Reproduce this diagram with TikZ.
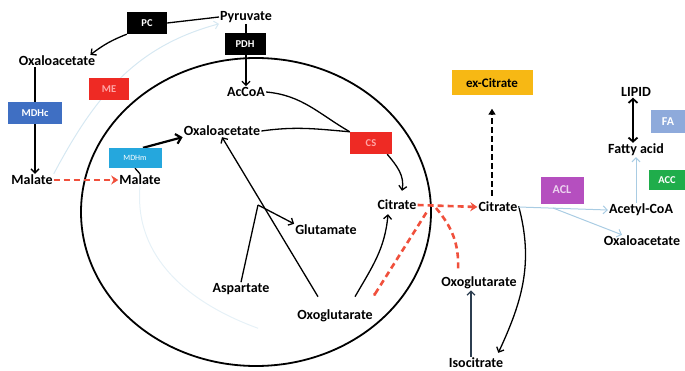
\documentclass[tikz,border=0pt]{standalone}
\usepackage{fontspec}
\setmainfont{Carlito}
\usetikzlibrary{arrows.meta}
\pgfdeclarelayer{bg}
\pgfsetlayers{bg,main}
\definecolor{enzred}{HTML}{EE2A24}
\definecolor{mdhcblue}{HTML}{3F6FC3}
\definecolor{mdhmblue}{HTML}{25A7DD}
\definecolor{exyellow}{HTML}{F7B814}
\definecolor{aclpurple}{HTML}{B54FBF}
\definecolor{accgreen}{HTML}{1FAD4B}
\definecolor{fablue}{HTML}{8EAADB}
\definecolor{paleblue}{HTML}{A9CCE3}
\definecolor{ghostblue}{HTML}{D6E8F2}
\definecolor{dashred}{HTML}{F0503C}
\definecolor{slate}{HTML}{2C3E50}
\begin{document}
\begin{tikzpicture}[x=1pt,y=1pt,>={Straight Barb[length=4pt,width=8pt]},
	met/.style={font=\bfseries\fontsize{14}{16}\selectfont,inner sep=1pt},
	enz/.style={fill=#1,text=white,font=\bfseries\fontsize{10.5}{12}\selectfont,inner sep=0pt},
	reddash/.style={draw=dashred,line width=2.6pt,dash pattern=on 6pt off 4pt},
	ghost/.style={draw=ghostblue,line width=1pt},
	pale/.style={draw=paleblue,line width=1pt}]
	\useasboundingbox (0,0) rectangle (685,370);
	% metabolites
	\node[met] (pyr) at (246,353) {Pyruvate};
	\node[met] (oaaL) at (57,309) {Oxaloacetate};
	\node[met] (malL) at (32,190) {Malate};
	\node[met] (malR) at (140,190) {Malate};
	\node[met] (acoa) at (246,278) {AcCoA};
	\node[met] (oaaI) at (222,239) {Oxaloacetate};
	\node[met] (citI) at (397,165) {Citrate};
	\node[met] (glu) at (326,140) {Glutamate};
	\node[met] (asp) at (241,81) {Aspartate};
	\node[met] (oxoI) at (335,54) {Oxoglutarate};
	\node[met] (citO) at (498,163) {Citrate};
	\node[met] (oxoO) at (479,87) {Oxoglutarate};
	\node[met] (iso) at (476,7) {Isocitrate};
	\node[met] (acyl) at (641,160) {Acetyl-CoA};
	\node[met] (oaaR) at (642,129) {Oxaloacetate};
	\node[met] (fac) at (636,220) {Fatty acid};
	\node[met] (lip) at (636,278) {LIPID};
	% enzymes
	\node[enz=black,minimum width=40,minimum height=22] (pc) at (147,347) {PC};
	\node[enz=black,minimum width=41,minimum height=22] (pdh) at (245,326) {PDH};
	\node[enz=enzred,text=red!35,minimum width=40,minimum height=22] (me) at (109,281) {ME};
	\node[enz=mdhcblue,minimum width=54,minimum height=22] (mdhc) at (35,257) {MDHc};
	\node[enz=mdhmblue,minimum width=53,minimum height=20,font=\fontsize{8}{10}\selectfont] (mdhm) at (135,212) {MDHm};
	\node[enz=enzred,text=red!35,minimum width=42,minimum height=22] (cs) at (371,227) {CS};
	\node[enz=exyellow,text=black,minimum width=81,minimum height=25,font=\bfseries\fontsize{13}{15}\selectfont] (exc) at (492,287) {ex-Citrate};
	\node[enz=aclpurple,text=aclpurple!25,minimum width=43,minimum height=27,font=\bfseries\fontsize{12}{14}\selectfont] (acl) at (562,180) {ACL};
	\node[enz=accgreen,minimum width=37,minimum height=20] (acc) at (667,190) {ACC};
	\node[enz=fablue,minimum width=35,minimum height=23,font=\bfseries\fontsize{12}{14}\selectfont] (fa) at (668,248) {FA};
	\coordinate (jn) at (258,165);
	\coordinate (xp) at (428,160);
	\coordinate (br) at (553,162);
	\begin{pgfonlayer}{bg}
	\begin{scope}[line width=1.3pt]
		\draw[line width=1.8pt] (256,158) ellipse [x radius=175,y radius=154];
		% cytosol
		\draw (pyr.west) -- (pc.east);
		\draw[->] (pc.south west) to[bend right=8] ([xshift=-6]oaaL.north east);
		\draw[->] (pyr.south) -- (acoa.north);
		\draw[->] (mdhc |- oaaL.south) -- (mdhc |- malL.north);
		\draw[reddash,-{Stealth[length=7pt,width=9pt]}] (malL.east) -- (malR.west);
		\draw[ghost,->] (malL.north east) to[out=62,in=195] (pyr.south west);
		\draw[ghost,draw=ghostblue!60] (malR.south) to[out=-95,in=160] ([xshift=-38,yshift=-5]oxoI.south west);
		% mitochondrion
		\draw (malR.north) -- (mdhm.south);
		\draw[line width=2.2pt,-{Straight Barb[length=5pt,width=10pt]}] ([xshift=8]mdhm.north) -- (oaaI.south west);
		\draw (acoa.east) to[out=-5,in=150] (cs.north west);
		\draw (oaaI.east) to[out=8,in=175] (cs.north west);
		\draw[->] ([xshift=-5]cs.south east) to[out=-50,in=80] ([xshift=5,yshift=8]citI.north);
		\draw[->] ([shift={(-17,12)}]oxoI.north) -- (oaaI.south);
		\draw (asp.north) -- (jn);
		\draw[->] (jn) -- (glu.north west);
		\draw[->] ([shift={(20,12)}]oxoI.north) to[out=60,in=-95] ([shift={(-9,-3)}]citI.south);
		\draw[reddash,-{Stealth[length=7pt,width=9pt]}] (citI.east) -- (citO.west);
		\draw[reddash,{Circle[length=3pt]}-] ([yshift=13]oxoI.north east) -- (xp);
		\draw[reddash] ([xshift=8,yshift=2]xp) to[out=-50,in=88] ([shift={(18,6)}]oxoO.north west);
		% export and lipid synthesis
		\draw[line width=2.4pt,dash pattern=on 6pt off 3pt,-{Triangle[length=6pt,width=7pt]},shorten >=13pt,shorten <=5pt] (exc |- citO.north) -- (exc.south);
		\draw[->] ([yshift=7]citO.south east) to[out=-75,in=65] ([xshift=-6,yshift=4]iso.north east);
		\draw[draw=slate,->] ([xshift=-5]iso.north) -- ([xshift=-5]iso.north |- oxoO.south);
		\draw[pale,->] (citO.east) -- (acyl.west);
		\draw[pale,->] (br) -- ([xshift=-20]oaaR.north);
		\draw[pale,->] (fac |- acyl.north) -- (fac.south);
		\draw[line width=1.8pt,{Straight Barb[length=4pt,width=9pt]}-{Straight Barb[length=4pt,width=9pt]}] ([xshift=-3]lip.south) -- ([xshift=-3]fac.north);
	\end{scope}
	\end{pgfonlayer}
\end{tikzpicture}
\end{document}
